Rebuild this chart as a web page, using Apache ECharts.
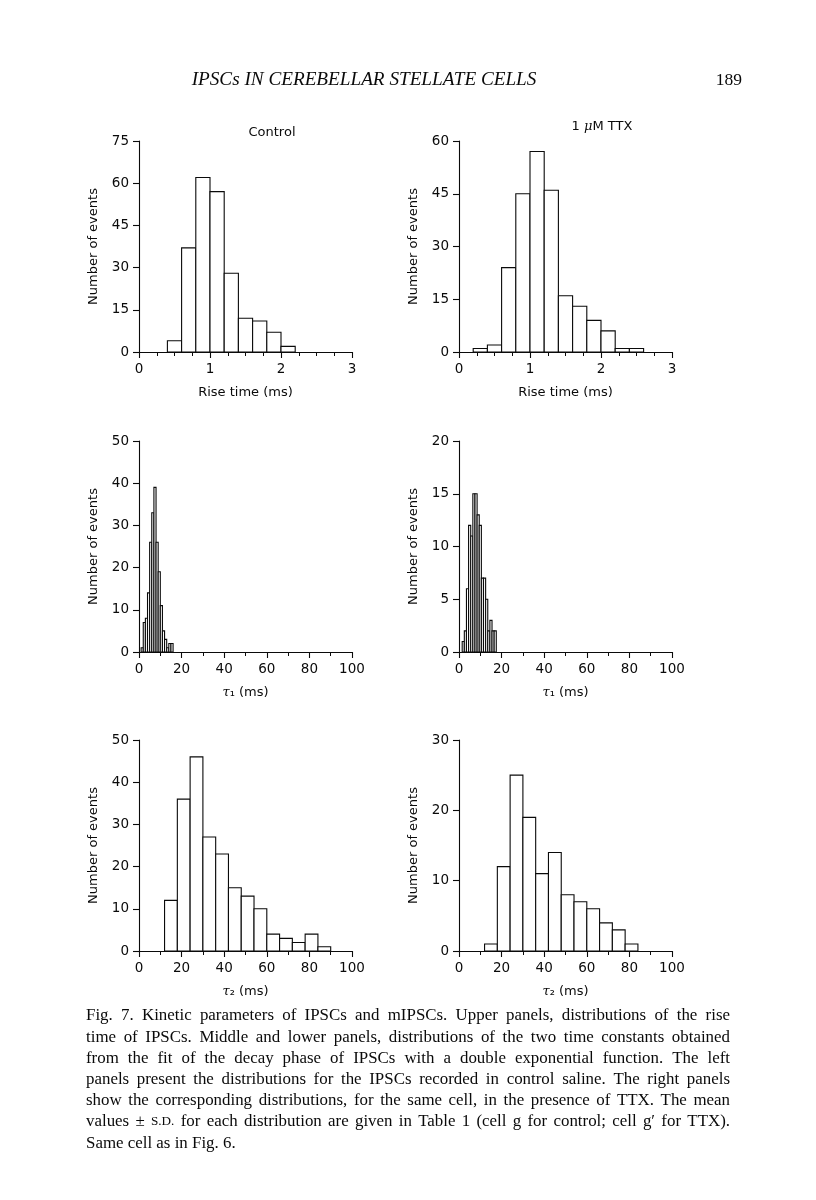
<!DOCTYPE html>
<html>
<head>
<meta charset="utf-8">
<script src="https://cdn.jsdelivr.net/npm/echarts@6/dist/echarts.min.js"></script>
<style>
html,body{margin:0;padding:0;background:#fff;}
#chart{width:816px;height:1200px;}
</style>
</head>
<body>
<div id="chart"></div>
<script>
// ---------------- DATA ----------------
const riseBinWidth = 0.2;
const riseControlStart = 0.4;
const riseControlCounts = [4, 37, 62, 57, 28, 12, 11, 7, 2];
const riseTTXStart = 0.2;
const riseTTXCounts = [1, 2, 24, 45, 57, 46, 16, 13, 9, 6, 1, 1];

const tau1BinWidth = 1;
const tau1ControlStart = 1;
const tau1ControlCounts = [1, 7, 8, 14, 26, 33, 39, 26, 19, 11, 5, 3, 1, 2, 2];
const tau1TTXStart = 1.5;
const tau1TTXCounts = [1, 2, 6, 12, 11, 15, 15, 13, 12, 7, 7, 5, 2, 3, 2, 2];

const tau2BinWidth = 6;
const tau2ControlStart = 12;
const tau2ControlCounts = [12, 36, 46, 27, 23, 15, 13, 10, 4, 3, 2, 4, 1];
const tau2TTXStart = 12;
const tau2TTXCounts = [1, 12, 25, 19, 11, 14, 8, 7, 6, 4, 3, 1];

const riseXTicks = [0, 1, 2, 3];
const tauXTicks = [0, 20, 40, 60, 80, 100];
const riseControlYTicks = [0, 15, 30, 45, 60, 75];
const riseTTXYTicks = [0, 15, 30, 45, 60];
const tau1ControlYTicks = [0, 10, 20, 30, 40, 50];
const tau1TTXYTicks = [0, 5, 10, 15, 20];
const tau2ControlYTicks = [0, 10, 20, 30, 40, 50];
const tau2TTXYTicks = [0, 10, 20, 30];

const panelTitles = ['Control', '1 {i|μ}M TTX'];
const xNames = ['Rise time (ms)', '{i|τ}₁ (ms)', '{i|τ}₂ (ms)'];
const yName = 'Number of events';
const headerText = 'IPSCs IN CEREBELLAR STELLATE CELLS';
const pageNumber = '189';
const captionLines = [
  'Fig. 7. Kinetic parameters of IPSCs and mIPSCs. Upper panels, distributions of the rise',
  'time of IPSCs. Middle and lower panels, distributions of the two time constants obtained',
  'from the fit of the decay phase of IPSCs with a double exponential function. The left',
  'panels present the distributions for the IPSCs recorded in control saline. The right panels',
  'show the corresponding distributions, for the same cell, in the presence of TTX. The mean',
  'values ± S.D. for each distribution are given in Table 1 (cell g for control; cell g′ for TTX).',
  'Same cell as in Fig. 6.'
];

// ---------------- BUILD ----------------
function bins(start, width, counts) {
  return counts.map((c, i) => [start + i * width, start + (i + 1) * width, c]);
}

const panels = [
  {data: bins(riseControlStart, riseBinWidth, riseControlCounts), xt: riseXTicks, yt: riseControlYTicks, xn: xNames[0], minor: 4},
  {data: bins(riseTTXStart, riseBinWidth, riseTTXCounts), xt: riseXTicks, yt: riseTTXYTicks, xn: xNames[0], minor: 4},
  {data: bins(tau1ControlStart, tau1BinWidth, tau1ControlCounts), xt: tauXTicks, yt: tau1ControlYTicks, xn: xNames[1], minor: 2},
  {data: bins(tau1TTXStart, tau1BinWidth, tau1TTXCounts), xt: tauXTicks, yt: tau1TTXYTicks, xn: xNames[1], minor: 2},
  {data: bins(tau2ControlStart, tau2BinWidth, tau2ControlCounts), xt: tauXTicks, yt: tau2ControlYTicks, xn: xNames[2], minor: 2},
  {data: bins(tau2TTXStart, tau2BinWidth, tau2TTXCounts), xt: tauXTicks, yt: tau2TTXYTicks, xn: xNames[2], minor: 2}
];

const colLeft = [139, 459];
const rowTop = [141, 441, 740];
const gridW = 213, gridH = 211;

const AX_FONT = '"DejaVu Sans", Arial, sans-serif';
const INK = '#0a0a0a';

const grids = [], xAxes = [], yAxes = [], series = [];
panels.forEach((p, i) => {
  const col = i % 2, row = Math.floor(i / 2);
  grids.push({left: colLeft[col], top: rowTop[row], width: gridW, height: gridH, containLabel: false});
  xAxes.push({
    type: 'value', gridIndex: i,
    min: p.xt[0], max: p.xt[p.xt.length - 1], interval: p.xt[1] - p.xt[0],
    axisLine: {show: true, onZero: false, lineStyle: {color: INK, width: 1.1}},
    axisTick: {show: true, inside: false, length: 6, lineStyle: {color: INK, width: 1.1}},
    minorTick: {show: true, splitNumber: p.minor, length: 4, lineStyle: {color: INK, width: 1}},
    splitLine: {show: false},
    axisLabel: {color: INK, fontSize: 13.5, fontFamily: AX_FONT, margin: 10},
    name: p.xn, nameLocation: 'middle', nameGap: 34,
    nameTextStyle: {color: INK, fontSize: 13, fontFamily: AX_FONT,
      rich: {i: {fontStyle: 'italic', fontSize: 13, fontFamily: '"DejaVu Serif", serif', color: INK}}}
  });
  yAxes.push({
    type: 'value', gridIndex: i,
    min: p.yt[0], max: p.yt[p.yt.length - 1], interval: p.yt[1] - p.yt[0],
    axisLine: {show: true, lineStyle: {color: INK, width: 1.1}},
    axisTick: {show: true, inside: false, length: 6, lineStyle: {color: INK, width: 1.1}},
    splitLine: {show: false},
    axisLabel: {color: INK, fontSize: 13.5, fontFamily: AX_FONT, margin: 10},
    name: yName, nameLocation: 'middle', nameGap: 39,
    nameTextStyle: {color: INK, fontSize: 13, fontFamily: AX_FONT}
  });
  series.push({
    type: 'custom', xAxisIndex: i, yAxisIndex: i,
    data: p.data,
    encode: {x: [0, 1], y: 2},
    renderItem: function (params, api) {
      const x0 = api.value(0), x1 = api.value(1), v = api.value(2);
      if (!v) return null;
      const a = api.coord([x0, 0]);
      const b = api.coord([x1, v]);
      return {
        type: 'rect',
        shape: {x: a[0], y: b[1], width: b[0] - a[0], height: a[1] - b[1]},
        style: {fill: '#fff', stroke: INK, lineWidth: 1.1}
      };
    },
    z: 1
  });
});

// caption, header, titles
const SERIF = '"Liberation Serif", "Times New Roman", serif';
const CAP_SIZE = 16.9;
const CAP_X0 = 86, CAP_X1 = 730, CAP_Y0 = 1016, CAP_DY = 21.2;
const measureCtx = document.createElement('canvas').getContext('2d');
function wordFont(w) {
  return (w === 'S.D.' ? (CAP_SIZE * 0.78) : CAP_SIZE) + 'px ' + SERIF;
}
const graphics = [];
captionLines.forEach((line, li) => {
  const words = line.split(' ');
  const widths = words.map(w => { measureCtx.font = wordFont(w); return measureCtx.measureText(w).width; });
  const total = widths.reduce((s, v) => s + v, 0);
  const justify = li < captionLines.length - 1;
  measureCtx.font = CAP_SIZE + 'px ' + SERIF;
  const gap = justify ? (CAP_X1 - CAP_X0 - total) / (words.length - 1) : measureCtx.measureText(' ').width;
  let x = CAP_X0;
  const y = CAP_Y0 + li * CAP_DY;
  words.forEach((w, wi) => {
    graphics.push({type: 'text', x: x, y: y, style: {text: w, font: wordFont(w), fill: INK, textVerticalAlign: 'middle', textAlign: 'left'}});
    x += widths[wi] + gap;
  });
});
graphics.push({type: 'text', x: 364, y: 80, style: {text: headerText, font: 'italic 19.2px ' + SERIF, fill: INK, textAlign: 'center', textVerticalAlign: 'middle'}});
graphics.push({type: 'text', x: 742, y: 80, style: {text: pageNumber, font: '17.5px ' + SERIF, fill: INK, textAlign: 'right', textVerticalAlign: 'middle'}});
graphics.push({type: 'text', x: 272, y: 133, style: {text: panelTitles[0], font: '13px ' + AX_FONT, fill: INK, textAlign: 'center', textVerticalAlign: 'middle'}});
graphics.push({type: 'text', x: 602, y: 127, style: {text: panelTitles[1], font: '13px ' + AX_FONT, fill: INK, textAlign: 'center', textVerticalAlign: 'middle',
  rich: {i: {fontStyle: 'italic', fontSize: 13, fontFamily: '"DejaVu Serif", serif', fill: INK}}}});

const chart = echarts.init(document.getElementById('chart'), null, {renderer: 'canvas', width: 816, height: 1200});
chart.setOption({
  backgroundColor: '#fff',
  animation: false,
  grid: grids,
  xAxis: xAxes,
  yAxis: yAxes,
  series: series,
  graphic: graphics
});
</script>
</body>
</html>
